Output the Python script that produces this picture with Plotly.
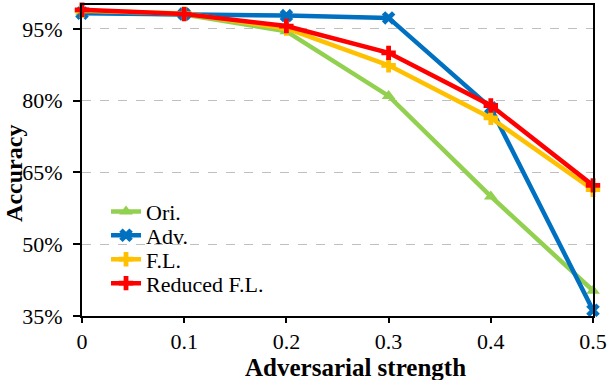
import plotly.graph_objects as go

strength = [0, 0.1, 0.2, 0.3, 0.4, 0.5]
ori = [98.5, 98.0, 94.5, 81.0, 60.0, 40.3]
adv = [98.3, 98.1, 97.8, 97.3, 78.5, 36.2]
fl = [98.8, 98.2, 95.1, 87.4, 76.4, 61.4]
reduced_fl = [99.0, 98.1, 95.6, 90.0, 79.0, 62.3]

y_ticks = [35, 50, 65, 80, 95]
y_tick_labels = ["35%", "50%", "65%", "80%", "95%"]
x_ticks = [0, 0.1, 0.2, 0.3, 0.4, 0.5]
x_tick_labels = ["0", "0.1", "0.2", "0.3", "0.4", "0.5"]

FONT = "Liberation Serif"

# nom, valeurs, couleur, symbole, legende, position y de la ligne de legende
series = [
    ("Ori.", ori, "#92D050", "triangle-up", "legend", 0.335),
    ("Adv.", adv, "#0070C0", "x", "legend2", 0.259),
    ("F.L.", fl, "#FFC000", "cross", "legend3", 0.182),
    ("Reduced F.L.", reduced_fl, "#FF0000", "cross", "legend4", 0.105),
]

fig = go.Figure()
legend_layout = {}
for name, values, color, symbol, legend_id, legend_y in series:
    fig.add_trace(
        go.Scatter(
            x=strength,
            y=values,
            mode="lines+markers",
            name=name,
            legend=legend_id,
            line=dict(color=color, width=4.5),
            marker=dict(symbol=symbol, size=12, color=color),
            cliponaxis=False,
        )
    )
    legend_layout[legend_id] = dict(
        x=0.047,
        y=legend_y,
        xanchor="left",
        yanchor="middle",
        bgcolor="rgba(0,0,0,0)",
        borderwidth=0,
        font=dict(family=FONT, size=22, color="black"),
        itemwidth=30,
    )

# titres des axes places a la main (le centre n'est pas celui du trace)
fig.add_annotation(
    text="<b>Adversarial strength</b>",
    xref="paper", yref="paper",
    x=0.536, y=-0.166,
    xanchor="center", yanchor="middle",
    showarrow=False,
    font=dict(family=FONT, size=25, color="black"),
)
fig.add_annotation(
    text="<b>Accuracy</b>",
    xref="paper", yref="paper",
    x=-0.133, y=0.457,
    xanchor="center", yanchor="middle",
    textangle=-90,
    showarrow=False,
    font=dict(family=FONT, size=24, color="black"),
)

fig.update_layout(
    width=610,
    height=380,
    plot_bgcolor="white",
    paper_bgcolor="white",
    margin=dict(l=82, r=13, t=3, b=64),
    font=dict(family=FONT, size=22, color="black"),
    showlegend=True,
    xaxis=dict(
        range=[0, 0.5],
        tickvals=x_ticks,
        ticktext=x_tick_labels,
        tickfont=dict(family=FONT, size=22, color="black"),
        ticklabeloverflow="allow",
        showline=True,
        linecolor="black",
        linewidth=2,
        mirror=True,
        ticks="outside",
        ticklen=5,
        tickwidth=1.5,
        tickcolor="black",
        showgrid=False,
        zeroline=False,
    ),
    yaxis=dict(
        range=[35, 100],
        tickvals=y_ticks,
        ticktext=y_tick_labels,
        tickfont=dict(family=FONT, size=22, color="black"),
        ticklabelstandoff=6,
        showline=True,
        linecolor="black",
        linewidth=2,
        mirror=True,
        ticks="outside",
        ticklen=7,
        tickwidth=1.5,
        tickcolor="black",
        showgrid=True,
        gridcolor="#BFBFBF",
        griddash="dash",
        gridwidth=1,
        zeroline=False,
    ),
    **legend_layout,
)

fig.write_html(
    "out.html",
    config={"displayModeBar": False},
    post_script="document.body.style.margin='0';",
)
